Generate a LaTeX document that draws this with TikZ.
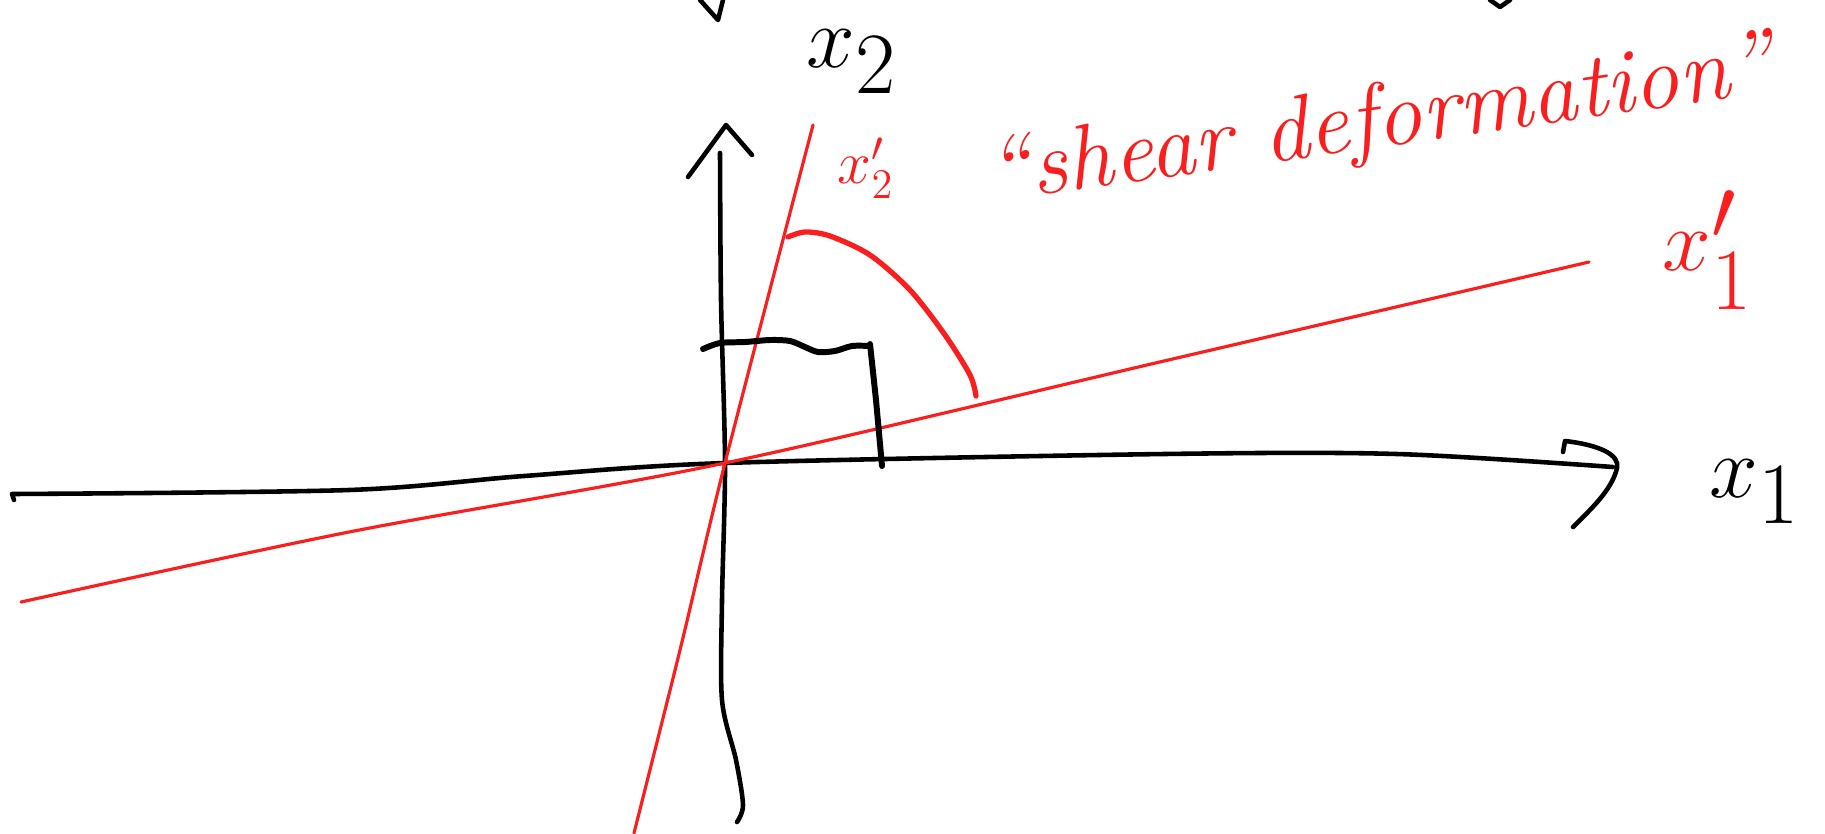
\documentclass[tikz,border=0pt]{standalone}
\usepackage{amsmath}
\usepackage{tikz}
\usepackage{xcolor}
\definecolor{penred}{RGB}{250,30,30}
\tikzset{
  axisline/.style={line width=1.3pt, line cap=round, line join=round},
  redline/.style={penred, line width=0.9pt, line cap=round},
  boxline/.style={line width=1.7pt, line cap=round, line join=round},
  biglabel/.style={font=\fontsize{38}{42}\selectfont, inner sep=0pt}
}
\begin{document}
\begin{tikzpicture}[x=0.01cm,y=-0.01cm]
\useasboundingbox (0,0) rectangle (1825,833);
\coordinate (O) at (725,463);
\coordinate (Xtip) at (1617,468);
\coordinate (Ytip) at (726,125);
\coordinate (Xend) at (1589,262);
\coordinate (Yend) at (813,125);
\node[biglabel] (xone) at (1755,492) {$x_1$};
\node[biglabel] (xtwo) at (852,62) {$x_2$};
\node[biglabel, penred] (xonep) at (1708,250) {$x_1'$};
\node[penred, font=\fontsize{18}{22}\selectfont, inner sep=0pt] (xtwop) at (866,168) {$x_2'$};
\node[penred, rotate=8, inner sep=0pt, font=\fontsize{26}{30}\selectfont\itshape] (shear) at (1380,124) {``shear deformation''};
\draw[axisline] (14,500) -- (12,494) plot[smooth] coordinates {(12,494) (349,490) (524,476) (O) (1164,454) (1397,454) (1613,467)};
\draw[axisline] (1563,452) -- (1565,441) .. controls (1600,445) and (1620,455) .. (Xtip) .. controls (1612,490) and (1590,510) .. (1573,527);
\draw[axisline] plot[smooth] coordinates {(737,822) (743,805) (736,760) (722,700) (722,600) (O) (721,300) (720,153)};
\draw[axisline] (688,177) -- (Ytip) -- (752,155);
\draw[redline] plot[smooth] coordinates {(21,602) (349,532) (O) (1164,361) (Xend)};
\draw[redline] plot[smooth] coordinates {(634,833) (680,650) (O) (Yend)};
\draw[penred, line width=1.5pt, line cap=round] plot[smooth] coordinates {(788,237) (805,232) (830,236) (870,255) (910,290) (945,335) (970,375) (976,396)};
\draw[boxline] plot[smooth] coordinates {(703,349) (720,343) (745,342) (770,340) (790,341) (805,347) (818,352) (835,351) (852,346) (870,346)};
\draw[boxline] (870,344) -- (876,400) -- (882,466);
\draw[axisline] (700,0) -- (718,20) -- (723,0);
\draw[axisline] (1490,0) -- (1500,7) -- (1510,0);
\end{tikzpicture}
\end{document}
